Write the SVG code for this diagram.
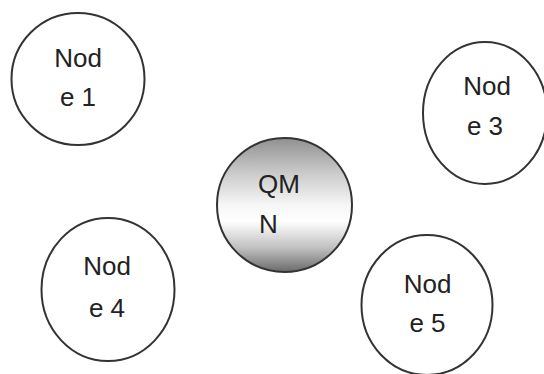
<svg xmlns="http://www.w3.org/2000/svg" width="544" height="374" viewBox="0 0 544 374">
<style>
.n{fill:#fff;stroke:#333;stroke-width:2}
.t{font-family:"Liberation Sans",Arial,sans-serif;font-size:26px;fill:#222;text-anchor:middle}
.l{text-anchor:start}
</style>
<defs>
<linearGradient id="g" x1="0" y1="0" x2="0" y2="1">
<stop offset="0" stop-color="#909090"/>
<stop offset="0.25" stop-color="#c8c8c8"/>
<stop offset="0.5" stop-color="#f6f6f6"/>
<stop offset="0.62" stop-color="#ffffff"/>
<stop offset="0.82" stop-color="#c0c0c0"/>
<stop offset="1" stop-color="#6a6a6a"/>
</linearGradient>
</defs>
<rect width="544" height="374" fill="#fff"/>
<g id="connectors"></g>
<g id="node1">
<ellipse class="n" cx="78" cy="79" rx="66.5" ry="66"/>
<text class="t" x="78" y="67">Nod</text>
<text class="t" x="78" y="106">e 1</text>
</g>
<g id="node3">
<ellipse class="n" cx="485" cy="113" rx="62" ry="71"/>
<text class="t" x="487" y="95">Nod</text>
<text class="t" x="485" y="135">e 3</text>
</g>
<g id="qmn">
<ellipse cx="284.5" cy="205" rx="67.5" ry="67" fill="url(#g)" stroke="#333" stroke-width="2"/>
<text class="t l" x="258" y="193">QM</text>
<text class="t l" x="259" y="233">N</text>
</g>
<g id="node4">
<ellipse class="n" cx="108" cy="289.5" rx="66.5" ry="71.5"/>
<text class="t" x="107" y="275">Nod</text>
<text class="t" x="107" y="317">e 4</text>
</g>
<g id="node5">
<ellipse class="n" cx="427" cy="305" rx="65.5" ry="70"/>
<text class="t" x="427.5" y="293">Nod</text>
<text class="t" x="427.5" y="332">e 5</text>
</g>
</svg>
